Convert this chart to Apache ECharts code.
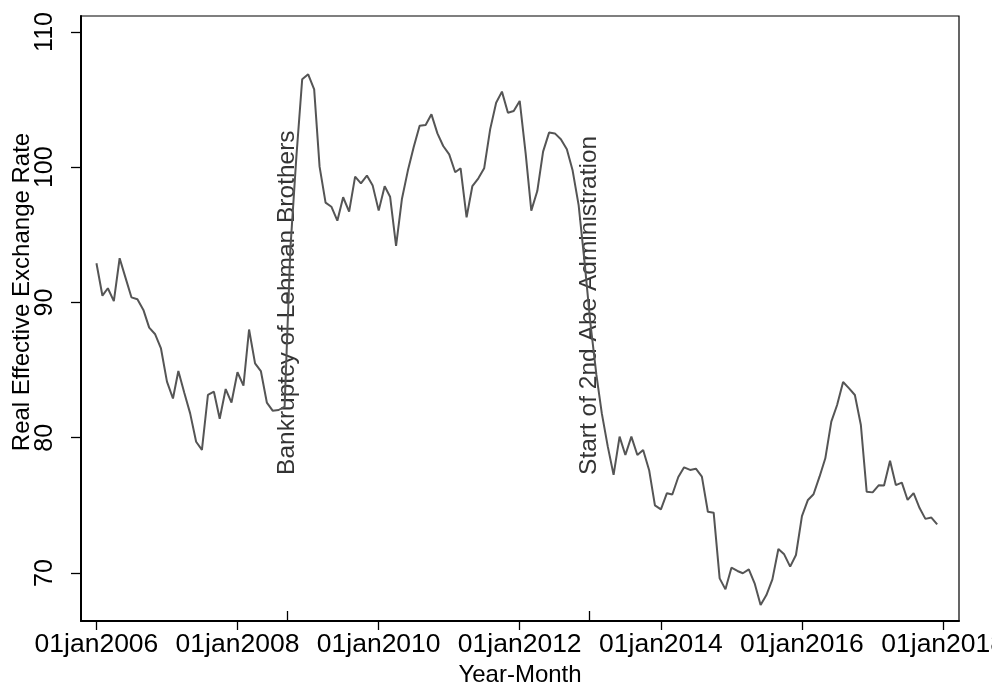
<!DOCTYPE html>
<html>
<head>
<meta charset="utf-8">
<script src="https://cdn.jsdelivr.net/npm/echarts@6/dist/echarts.min.js"></script>
<style>
html,body{margin:0;padding:0;background:#fff;}
#chart{width:992px;height:692px;}
</style>
</head>
<body>
<div id="chart"></div>
<script>
// Monthly Real Effective Exchange Rate, one array per year (Jan..Dec)
const reer2006 = [92.9, 90.5, 91.05, 90.1, 93.27, 91.8, 90.38, 90.24, 89.45, 88.14, 87.65, 86.6];
const reer2007 = [84.15, 82.9, 84.93, 83.3, 81.8, 79.7, 79.1, 83.16, 83.4, 81.4, 83.6, 82.6];
const reer2008 = [84.84, 83.85, 88.0, 85.5, 84.93, 82.6, 82.0, 82.05, 82.3, 94.0, 100.8, 106.5];
const reer2009 = [106.87, 105.76, 100.04, 97.38, 97.08, 96.05, 97.78, 96.72, 99.3, 98.81, 99.38, 98.64];
const reer2010 = [96.79, 98.59, 97.82, 94.18, 97.63, 99.75, 101.47, 103.07, 103.12, 103.91, 102.5, 101.57];
const reer2011 = [100.95, 99.63, 99.92, 96.3, 98.61, 99.18, 99.92, 102.8, 104.77, 105.59, 104.03, 104.16];
const reer2012 = [104.9, 100.98, 96.79, 98.24, 101.15, 102.56, 102.5, 102.07, 101.33, 99.75, 97.2, 93.1];
const reer2013 = [88.46, 84.64, 81.8, 79.34, 77.25, 80.08, 78.72, 80.08, 78.72, 79.09, 77.6, 75.0];
const reer2014 = [74.7, 75.9, 75.8, 77.1, 77.81, 77.62, 77.71, 77.12, 74.53, 74.46, 69.6, 68.79];
const reer2015 = [70.39, 70.15, 69.98, 70.27, 69.24, 67.63, 68.37, 69.53, 71.77, 71.38, 70.47, 71.33];
const reer2016 = [74.21, 75.4, 75.82, 77.12, 78.48, 81.19, 82.42, 84.12, 83.65, 83.16, 80.94, 76.01];
const reer2017 = [75.96, 76.48, 76.46, 78.3, 76.5, 76.68, 75.4, 75.9, 74.8, 74.0, 74.1, 73.6];
const yearArrays = [reer2006, reer2007, reer2008, reer2009, reer2010, reer2011,
                    reer2012, reer2013, reer2014, reer2015, reer2016, reer2017];
const firstYear = 2006;

// Axis ticks
const xTickYears = [2006, 2008, 2010, 2012, 2014, 2016, 2018];
const yTickValues = [70, 80, 90, 100, 110];

// Event annotations
const eventYears = [2008, 2012];
const eventMonths = [8, 11];   // 0-based month
const eventDays = [15, 26];
const eventLabels = ['Bankruptcy of Lehman Brothers', 'Start of 2nd Abe Administration'];
const eventLabelY = 77.25;

// Build series data from arrays
const lineData = [];
yearArrays.forEach((arr, yi) => {
  arr.forEach((v, mi) => lineData.push([Date.UTC(firstYear + yi, mi, 1), v]));
});
const xTickDates = xTickYears.map(y => Date.UTC(y, 0, 1));
const eventDates = eventYears.map((y, i) => Date.UTC(y, eventMonths[i], eventDays[i]));
const eventData = eventDates.map((d, i) => [d, eventLabelY, eventLabels[i]]);

const FONT = '"Liberation Sans", Arial, Helvetica, sans-serif';
const xMin = Date.UTC(2005, 9, 13);
const xMax = Date.UTC(2018, 2, 24);
const yMin = 66.45, yMax = 111.18;

const chart = echarts.init(document.getElementById('chart'), null, {renderer: 'canvas'});
chart.setOption({
  animation: false,
  backgroundColor: '#fff',
  grid: {left: 81, right: 33, top: 16, bottom: 71, show: true, borderColor: '#000', borderWidth: 1.2,
    containLabel: false, outerBoundsMode: 'none'},
  xAxis: [{
    type: 'value', min: xMin, max: xMax,
    axisLine: {show: true, onZero: false, lineStyle: {color: '#000', width: 2}},
    axisTick: {show: true, customValues: xTickDates, length: 9, lineStyle: {color: '#000', width: 1.3}},
    axisLabel: {customValues: xTickDates, formatter: v => '01jan' + new Date(v).getUTCFullYear(),
      fontFamily: FONT, fontSize: 26.5, color: '#000', margin: 10, showMinLabel: true, showMaxLabel: true},
    splitLine: {show: false},
    name: 'Year-Month', nameLocation: 'middle', nameGap: 35,
    nameTextStyle: {fontFamily: FONT, fontSize: 24, color: '#000'}
  }, {
    type: 'value', min: xMin, max: xMax, position: 'bottom', gridIndex: 0,
    axisLine: {show: false},
    axisTick: {show: true, inside: true, customValues: eventDates, length: 10, lineStyle: {color: '#000', width: 1.3}},
    axisLabel: {show: false},
    splitLine: {show: false}
  }],
  yAxis: {
    type: 'value', min: yMin, max: yMax,
    axisLine: {show: true, onZero: false, lineStyle: {color: '#000', width: 2}},
    axisTick: {show: true, customValues: yTickValues, length: 10, lineStyle: {color: '#000', width: 1.3}},
    axisLabel: {customValues: yTickValues, rotate: 90, fontFamily: FONT, fontSize: 25, color: '#000', margin: 23},
    splitLine: {show: false}
  },
  graphic: [{
    type: 'text', x: 22, y: 292, rotation: Math.PI / 2,
    style: {text: 'Real Effective Exchange Rate', fontFamily: FONT, fontSize: 24, fill: '#000',
      align: 'center', verticalAlign: 'middle'}
  }],
  series: [{
    type: 'scatter', xAxisIndex: 0, yAxisIndex: 0, data: eventData, symbolSize: 0, silent: true,
    label: {show: true, formatter: p => p.data[2], position: [0, 0], rotate: 90,
      align: 'left', verticalAlign: 'middle', fontFamily: FONT, fontSize: 24.5, color: '#000'}
  }, {
    type: 'line', xAxisIndex: 0, yAxisIndex: 0, data: lineData, showSymbol: false, symbol: 'none',
    lineStyle: {color: '#555555', width: 2}, z: 3
  }]
});
</script>
</body>
</html>
